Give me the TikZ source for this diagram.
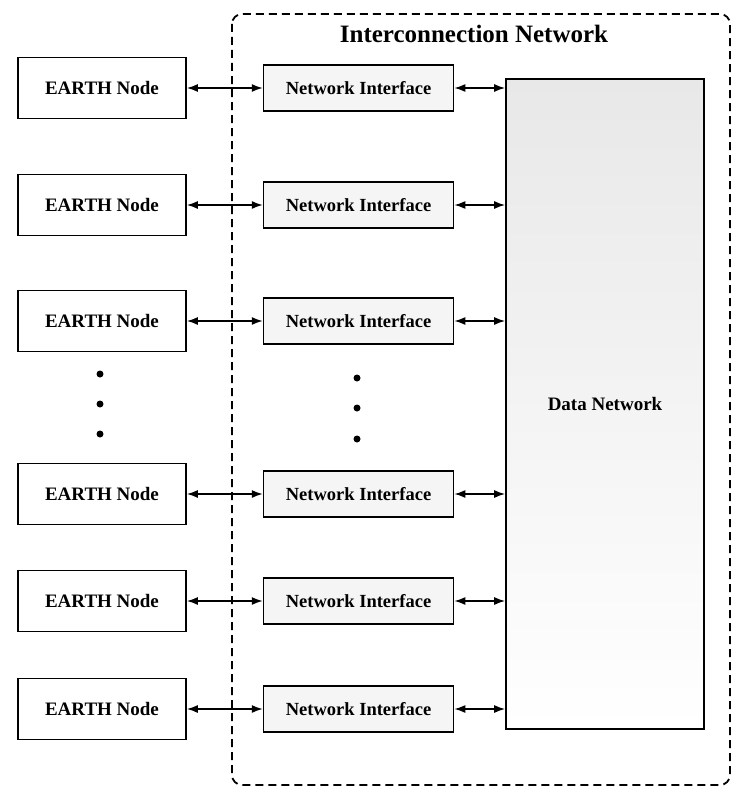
\documentclass[tikz,border=0pt]{standalone}
\usepackage{fontspec}
\setmainfont{Liberation Serif}
\usetikzlibrary{positioning}
\usetikzlibrary{backgrounds}
\usetikzlibrary{arrows.meta}

\tikzset{
  earthbox/.style={rectangle, draw, line width=1.6pt, minimum width=168pt, minimum height=61pt, font=\fontsize{19}{21}\selectfont\bfseries},
  netif/.style={rectangle, draw, line width=1.5pt, minimum width=190pt, minimum height=46pt, fill=gray!8, font=\fontsize{18.5}{20}\selectfont\bfseries},
  link/.style={line width=1.6pt, {Latex[length=11pt,width=8pt]}-{Latex[length=11pt,width=8pt]}},
  vdot/.style={circle, fill, inner sep=0pt, minimum size=7pt}
}

\begin{document}
\begin{tikzpicture}[x=1pt, y=-1pt]
    \useasboundingbox (0,0) rectangle (732,792);

    % Nodes
    \node[earthbox] (earth1) at (102,88) {EARTH Node};
    \node[earthbox] (earth2) at (102,205) {EARTH Node};
    \node[earthbox] (earth3) at (102,321) {EARTH Node};
    \node[earthbox] (earth4) at (102,494) {EARTH Node};
    \node[earthbox] (earth5) at (102,601) {EARTH Node};
    \node[earthbox] (earth6) at (102,709) {EARTH Node};

    \node[netif, right=76pt of earth1] (ni1) {Network Interface};
    \node[netif, right=76pt of earth2] (ni2) {Network Interface};
    \node[netif, right=76pt of earth3] (ni3) {Network Interface};
    \node[netif, right=76pt of earth4] (ni4) {Network Interface};
    \node[netif, right=76pt of earth5] (ni5) {Network Interface};
    \node[netif, right=76pt of earth6] (ni6) {Network Interface};

    \node[rectangle, draw, line width=1.6pt, minimum width=198pt, minimum height=650pt, top color=gray!18, bottom color=white, font=\fontsize{19}{21}\selectfont\bfseries] (data) at (605,404) {Data Network};

    % Dots
    \node[vdot] (ldot1) at (100,374) {};
    \node[vdot] (ldot2) at (100,404) {};
    \node[vdot] (ldot3) at (100,434) {};
    \node[vdot] (mdot1) at (357,378) {};
    \node[vdot] (mdot2) at (357,408) {};
    \node[vdot] (mdot3) at (357,439) {};

    % Links
    \draw[link] (earth1) -- (ni1);
    \draw[link] (earth2) -- (ni2);
    \draw[link] (earth3) -- (ni3);
    \draw[link] (earth4) -- (ni4);
    \draw[link] (earth5) -- (ni5);
    \draw[link] (earth6) -- (ni6);

    \draw[link] (ni1.east) -- (ni1.east -| data.west);
    \draw[link] (ni2.east) -- (ni2.east -| data.west);
    \draw[link] (ni3.east) -- (ni3.east -| data.west);
    \draw[link] (ni4.east) -- (ni4.east -| data.west);
    \draw[link] (ni5.east) -- (ni5.east -| data.west);
    \draw[link] (ni6.east) -- (ni6.east -| data.west);

    % Network boundary
    \begin{scope}[on background layer]
      \draw[line width=1.8pt, dash pattern=on 8pt off 5pt, rounded corners=10pt] (232,14) rectangle (730,785);
    \end{scope}
    \node[font=\fontsize{25}{27}\selectfont\bfseries] (title) at (474,34) {Interconnection Network};

\end{tikzpicture}
\end{document}
